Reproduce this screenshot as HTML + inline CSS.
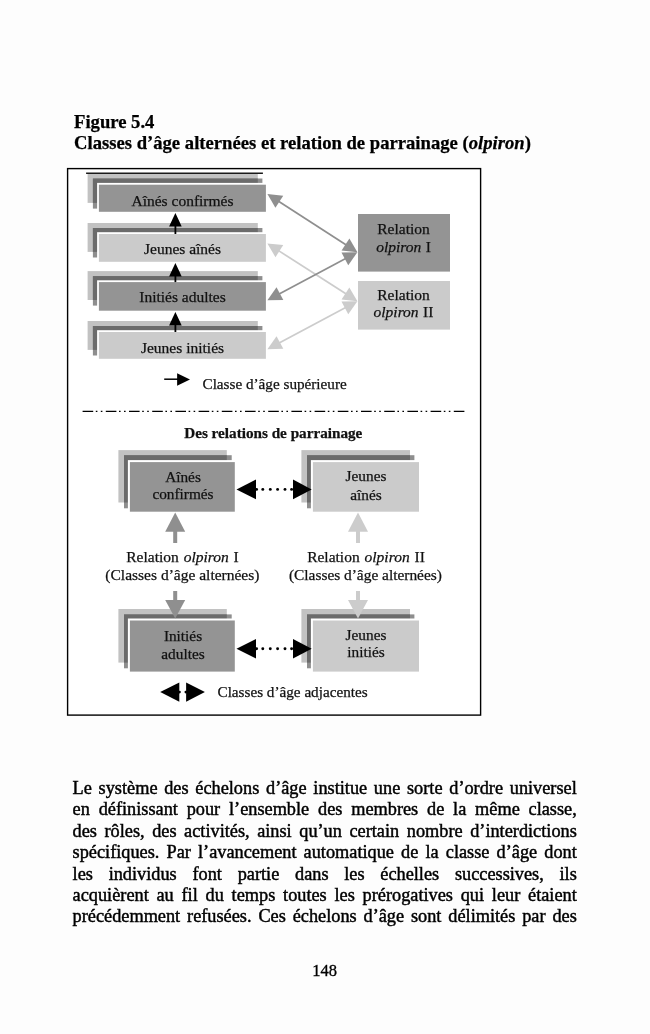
<!DOCTYPE html>
<html><head><meta charset="utf-8"><style>
html,body{margin:0;padding:0;background:#fdfdfd;}
body{width:650px;height:1034px;position:relative;overflow:hidden;will-change:transform;font-family:"Liberation Serif",serif;color:#000;}
.t{-webkit-text-stroke:0.25px #000;position:absolute;left:74px;font-size:18.65px;line-height:21.3px;font-weight:bold;white-space:nowrap;}
.bl{-webkit-text-stroke:0.45px #000;position:absolute;left:72.6px;width:504.2px;font-size:18.3px;line-height:21.45px;height:21.45px;text-align:justify;text-align-last:justify;white-space:nowrap;overflow:visible;}
.pn{-webkit-text-stroke:0.35px #000;position:absolute;left:-0.5px;width:650px;text-align:center;font-size:16.5px;line-height:20px;}
svg{position:absolute;left:0;top:0;}
svg text{font-family:"Liberation Serif",serif;stroke:#111;stroke-width:0.25px;}
</style></head><body>
<div class="t" style="top:111.06px">Figure 5.4<br>Classes d’âge alternées et relation de parrainage (<i>olpiron</i>)</div>
<svg width="650" height="1034" viewBox="0 0 650 1034">
<rect x="67.6" y="168.6" width="413" height="546.5" fill="#fff" stroke="#000" stroke-width="1.4"/>
<rect x="86.10" y="172.50" width="176.80" height="1.50" fill="#1a1a1a"/>
<rect x="87.60" y="174.00" width="170.20" height="28.90" fill="#c2c2c2"/>
<rect x="92.90" y="178.50" width="169.50" height="30.10" fill="#8e8e8e"/>
<rect x="92.90" y="178.50" width="164.90" height="24.40" fill="#6b6b6b"/>
<rect x="97.10" y="182.90" width="168.80" height="28.90" fill="#fff"/>
<rect x="98.90" y="184.70" width="167.00" height="27.10" fill="#949494"/>
<rect x="87.60" y="223.00" width="170.20" height="28.90" fill="#c2c2c2"/>
<rect x="92.90" y="228.00" width="169.50" height="29.50" fill="#8e8e8e"/>
<rect x="92.90" y="228.00" width="164.90" height="23.90" fill="#6b6b6b"/>
<rect x="97.10" y="232.20" width="168.80" height="29.60" fill="#fff"/>
<rect x="98.90" y="234.00" width="167.00" height="27.80" fill="#cbcbcb"/>
<rect x="87.60" y="271.10" width="170.20" height="28.90" fill="#c2c2c2"/>
<rect x="92.90" y="276.10" width="169.50" height="29.50" fill="#8e8e8e"/>
<rect x="92.90" y="276.10" width="164.90" height="23.90" fill="#6b6b6b"/>
<rect x="97.10" y="280.30" width="168.80" height="30.40" fill="#fff"/>
<rect x="98.90" y="282.10" width="167.00" height="28.60" fill="#949494"/>
<rect x="87.60" y="321.00" width="170.20" height="28.90" fill="#c2c2c2"/>
<rect x="92.90" y="326.00" width="169.50" height="29.50" fill="#8e8e8e"/>
<rect x="92.90" y="326.00" width="164.90" height="23.90" fill="#6b6b6b"/>
<rect x="97.10" y="330.20" width="168.80" height="28.60" fill="#fff"/>
<rect x="98.90" y="332.00" width="167.00" height="26.80" fill="#cbcbcb"/>
<text x="182.50" y="205.60" font-size="15.5" text-anchor="middle" font-weight="normal" fill="#111">Aînés confirmés</text>
<text x="182.50" y="253.80" font-size="15.5" text-anchor="middle" font-weight="normal" fill="#111">Jeunes aînés</text>
<text x="182.50" y="302.30" font-size="15.5" text-anchor="middle" font-weight="normal" fill="#111">Initiés adultes</text>
<text x="182.50" y="352.80" font-size="15.5" text-anchor="middle" font-weight="normal" fill="#111">Jeunes initiés</text>
<polygon points="175.40,213.10 169.10,226.60 181.70,226.60" fill="#000"/>
<line x1="175.40" y1="225.10" x2="175.40" y2="234.00" stroke="#000" stroke-width="1.8"/>
<polygon points="175.40,263.10 169.10,276.60 181.70,276.60" fill="#000"/>
<line x1="175.40" y1="275.10" x2="175.40" y2="282.10" stroke="#000" stroke-width="1.8"/>
<polygon points="175.40,312.00 169.10,325.50 181.70,325.50" fill="#000"/>
<line x1="175.40" y1="324.00" x2="175.40" y2="332.00" stroke="#000" stroke-width="1.8"/>
<rect x="358.00" y="214.00" width="92.00" height="57.60" fill="#949494"/>
<rect x="358.00" y="281.00" width="92.00" height="48.60" fill="#cbcbcb"/>
<text x="403.50" y="233.60" font-size="15.5" text-anchor="middle" font-weight="normal" fill="#111">Relation</text>
<text x="403.50" y="251.60" font-size="15.5" text-anchor="middle" font-weight="normal" fill="#111" word-spacing="0.6"><tspan font-style="italic">olpiron</tspan> I</text>
<text x="403.50" y="300.00" font-size="15.5" text-anchor="middle" font-weight="normal" fill="#111">Relation</text>
<text x="403.50" y="317.00" font-size="15.5" text-anchor="middle" font-weight="normal" fill="#111" word-spacing="0.6"><tspan font-style="italic">olpiron</tspan> II</text>
<line x1="278.16" y1="250.40" x2="346.64" y2="294.30" stroke="#cccccc" stroke-width="1.7"/>
<polygon points="267.40,243.50 275.47,257.23 283.24,245.10" fill="#cccccc"/>
<polygon points="357.40,301.20 341.56,299.60 349.33,287.47" fill="#cccccc"/>
<line x1="278.68" y1="343.19" x2="346.12" y2="307.21" stroke="#cccccc" stroke-width="1.7"/>
<polygon points="267.40,349.20 283.32,348.87 276.54,336.16" fill="#cccccc"/>
<polygon points="357.40,301.20 348.26,314.24 341.48,301.53" fill="#cccccc"/>
<line x1="278.13" y1="200.94" x2="346.67" y2="245.26" stroke="#8f8f8f" stroke-width="1.7"/>
<polygon points="267.40,194.00 275.41,207.76 283.23,195.66" fill="#8f8f8f"/>
<polygon points="357.40,252.20 341.57,250.54 349.39,238.44" fill="#8f8f8f"/>
<line x1="278.67" y1="294.28" x2="346.13" y2="258.22" stroke="#8f8f8f" stroke-width="1.7"/>
<polygon points="267.40,300.30 283.32,299.96 276.53,287.26" fill="#8f8f8f"/>
<polygon points="357.40,252.20 348.27,265.24 341.48,252.54" fill="#8f8f8f"/>
<line x1="164.20" y1="379.20" x2="178.00" y2="379.20" stroke="#000" stroke-width="1.5"/>
<polygon points="177.10,373.20 190.00,379.40 177.10,385.70" fill="#000"/>
<text x="202.50" y="388.50" font-size="15.2" text-anchor="start" font-weight="normal" fill="#111">Classe d’âge supérieure</text>
<line x1="82.6" y1="411.4" x2="465" y2="411.4" stroke="#000" stroke-width="1.4" stroke-dasharray="10.6 2.6 1.6 3.4 1.6 3.4"/>
<text x="273.30" y="437.50" font-size="15.2" text-anchor="middle" font-weight="bold" fill="#111">Des relations de parrainage</text>
<rect x="118.40" y="450.10" width="108.40" height="52.40" fill="#c2c2c2"/>
<rect x="124.00" y="455.20" width="107.70" height="53.10" fill="#8e8e8e"/>
<rect x="124.00" y="455.20" width="102.80" height="47.30" fill="#6b6b6b"/>
<rect x="127.90" y="460.10" width="106.90" height="51.60" fill="#fff"/>
<rect x="129.90" y="462.10" width="104.90" height="49.60" fill="#949494"/>
<rect x="301.40" y="450.10" width="108.60" height="52.40" fill="#c2c2c2"/>
<rect x="307.00" y="455.20" width="107.40" height="53.10" fill="#8e8e8e"/>
<rect x="307.00" y="455.20" width="103.00" height="47.30" fill="#6b6b6b"/>
<rect x="310.90" y="460.10" width="108.10" height="51.60" fill="#fff"/>
<rect x="312.90" y="462.10" width="106.10" height="49.60" fill="#cbcbcb"/>
<rect x="118.40" y="609.00" width="108.40" height="53.60" fill="#c2c2c2"/>
<rect x="124.00" y="614.40" width="107.70" height="53.90" fill="#8e8e8e"/>
<rect x="124.00" y="614.40" width="102.80" height="48.20" fill="#6b6b6b"/>
<rect x="127.90" y="618.50" width="106.90" height="53.10" fill="#fff"/>
<rect x="129.90" y="620.50" width="104.90" height="51.10" fill="#949494"/>
<rect x="301.40" y="609.00" width="108.60" height="53.60" fill="#c2c2c2"/>
<rect x="307.00" y="614.40" width="107.40" height="53.90" fill="#8e8e8e"/>
<rect x="307.00" y="614.40" width="103.00" height="48.20" fill="#6b6b6b"/>
<rect x="310.90" y="618.50" width="108.10" height="53.10" fill="#fff"/>
<rect x="312.90" y="620.50" width="106.10" height="51.10" fill="#cbcbcb"/>
<text x="183.00" y="481.60" font-size="15.3" text-anchor="middle" font-weight="normal" fill="#111">Aînés</text>
<text x="183.00" y="498.90" font-size="15.3" text-anchor="middle" font-weight="normal" fill="#111">confirmés</text>
<text x="366.00" y="481.40" font-size="15.3" text-anchor="middle" font-weight="normal" fill="#111">Jeunes</text>
<text x="366.00" y="499.60" font-size="15.3" text-anchor="middle" font-weight="normal" fill="#111">aînés</text>
<text x="183.00" y="640.60" font-size="15.3" text-anchor="middle" font-weight="normal" fill="#111">Initiés</text>
<text x="183.00" y="658.80" font-size="15.3" text-anchor="middle" font-weight="normal" fill="#111">adultes</text>
<text x="366.00" y="640.00" font-size="15.3" text-anchor="middle" font-weight="normal" fill="#111">Jeunes</text>
<text x="366.00" y="657.20" font-size="15.3" text-anchor="middle" font-weight="normal" fill="#111">initiés</text>
<text x="182.50" y="561.60" font-size="15.5" text-anchor="middle" font-weight="normal" fill="#111" word-spacing="1">Relation <tspan font-style="italic">olpiron</tspan> I</text>
<text x="182.40" y="579.50" font-size="15.5" text-anchor="middle" font-weight="normal" fill="#111">(Classes d’âge alternées)</text>
<text x="366.00" y="561.80" font-size="15.5" text-anchor="middle" font-weight="normal" fill="#111" word-spacing="1">Relation <tspan font-style="italic">olpiron</tspan> II</text>
<text x="365.40" y="579.50" font-size="15.4" text-anchor="middle" font-weight="normal" fill="#111">(Classes d’âge alternées)</text>
<polygon points="175.20,512.60 165.20,531.80 185.20,531.80" fill="#8f8f8f"/>
<rect x="173.20" y="531.00" width="4.00" height="12.00" fill="#8f8f8f"/>
<rect x="173.20" y="591.00" width="4.00" height="9.50" fill="#8f8f8f"/>
<polygon points="165.20,600.00 185.20,600.00 175.20,618.40" fill="#8f8f8f"/>
<polygon points="358.00,512.60 348.00,531.80 368.00,531.80" fill="#cccccc"/>
<rect x="356.00" y="531.00" width="4.00" height="12.00" fill="#cccccc"/>
<rect x="356.00" y="591.00" width="4.00" height="9.50" fill="#cccccc"/>
<polygon points="348.00,600.00 368.00,600.00 358.00,618.40" fill="#cccccc"/>
<polygon points="236.50,489.40 256.00,479.60 256.00,499.20" fill="#000"/>
<polygon points="311.70,489.40 293.00,479.60 293.00,499.20" fill="#000"/>
<circle cx="256.6" cy="489.4" r="1.45" fill="#000"/>
<circle cx="262.8" cy="489.4" r="1.45" fill="#000"/>
<circle cx="270.3" cy="489.4" r="1.45" fill="#000"/>
<circle cx="277.6" cy="489.4" r="1.45" fill="#000"/>
<circle cx="285.0" cy="489.4" r="1.45" fill="#000"/>
<circle cx="291.6" cy="489.4" r="1.45" fill="#000"/>
<polygon points="236.50,648.70 256.00,638.90 256.00,658.50" fill="#000"/>
<polygon points="311.70,648.70 293.00,638.90 293.00,658.50" fill="#000"/>
<circle cx="256.6" cy="648.7" r="1.45" fill="#000"/>
<circle cx="262.8" cy="648.7" r="1.45" fill="#000"/>
<circle cx="270.3" cy="648.7" r="1.45" fill="#000"/>
<circle cx="277.6" cy="648.7" r="1.45" fill="#000"/>
<circle cx="285.0" cy="648.7" r="1.45" fill="#000"/>
<circle cx="291.6" cy="648.7" r="1.45" fill="#000"/>
<polygon points="160.20,692.10 179.30,682.40 179.30,701.80" fill="#000"/>
<polygon points="204.90,692.10 186.10,682.40 186.10,701.80" fill="#000"/>
<circle cx="179.5" cy="692.1" r="1.3" fill="#000"/><circle cx="185.8" cy="692.1" r="1.3" fill="#000"/>
<text x="217.50" y="696.70" font-size="15.2" text-anchor="start" font-weight="normal" fill="#111">Classes d’âge adjacentes</text>
</svg>
<div class="bl" style="top:777.70px">Le système des échelons d’âge institue une sorte d’ordre universel</div>
<div class="bl" style="top:799.15px">en définissant pour l’ensemble des membres de la même classe,</div>
<div class="bl" style="top:820.60px">des rôles, des activités, ainsi qu’un certain nombre d’interdictions</div>
<div class="bl" style="top:842.05px">spécifiques. Par l’avancement automatique de la classe d’âge dont</div>
<div class="bl" style="top:863.50px">les individus font partie dans les échelles successives, ils</div>
<div class="bl" style="top:884.95px">acquièrent au fil du temps toutes les prérogatives qui leur étaient</div>
<div class="bl" style="top:906.40px">précédemment refusées. Ces échelons d’âge sont délimités par des</div>
<div class="pn" style="top:960.63px">148</div>
</body></html>
